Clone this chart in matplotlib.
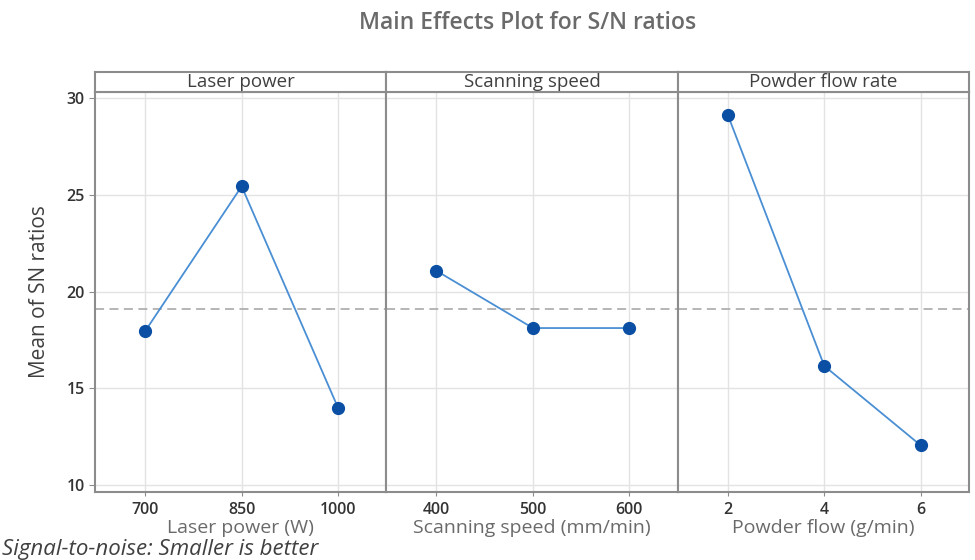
import matplotlib
matplotlib.use("Agg")
import matplotlib.pyplot as plt
import numpy as np

plt.rcParams['font.family'] = ['Open Sans', 'DejaVu Sans']

# factor names, levels and mean S/N ratio at each level
factors = ["Laser power", "Scanning speed", "Powder flow rate"]
axis_labels = ["Laser power (W)", "Scanning speed (mm/min)", "Powder flow (g/min)"]
levels = [["700", "850", "1000"], ["400", "500", "600"], ["2", "4", "6"]]
laser_sn = [17.96, 25.45, 13.99]
speed_sn = [21.08, 18.12, 18.12]
powder_sn = [29.14, 16.16, 12.05]
sn_means = [laser_sn, speed_sn, powder_sn]
y_ticks = [10, 15, 20, 25, 30]

grand_mean = np.mean(np.concatenate(sn_means))

frame_col = "#8c8c8c"
line_col = "#4a8fd4"
marker_col = "#0a4fa3"
text_col = "#404040"

fig = plt.figure(figsize=(9.75, 5.6), dpi=100)

left, right = 95 / 975, 969 / 975
bottom, top = 1 - 492 / 560, 1 - 92 / 560
strip_h = 20.5 / 560
panel_w = (right - left) / 3

for i, name in enumerate(factors):
    ax = fig.add_axes([left + i * panel_w, bottom, panel_w, top - bottom])
    x = np.arange(len(levels[i]))
    ax.plot(x, sn_means[i], color=line_col, lw=1.3, zorder=3)
    ax.plot(x, sn_means[i], "o", color=marker_col, ms=8.5, zorder=4)
    ax.axhline(grand_mean, color="#b0b0b0", ls=(0, (5, 3)), lw=1.3, zorder=2)

    ax.set_xlim(-0.52, 2.5)
    ax.set_ylim(9.64, 30.33)
    ax.set_xticks(x)
    ax.set_xticklabels(levels[i], fontweight="semibold")
    ax.set_yticks(y_ticks)
    ax.grid(True, color="#e3e3e3", lw=1.0, zorder=0)
    ax.set_axisbelow(True)
    for sp in ax.spines.values():
        sp.set_color(frame_col)
        sp.set_linewidth(1.5)
    ax.tick_params(axis="x", length=3, color=frame_col, labelsize=11.5,
                   labelcolor="#333333", pad=4)
    if i == 0:
        ax.set_yticklabels([str(t) for t in y_ticks], fontweight="semibold")
        ax.tick_params(axis="y", length=4, color=frame_col, labelsize=11.5,
                       labelcolor="#333333")
        ax.set_ylabel("Mean of SN ratios", fontsize=15, color=text_col, labelpad=12)
    else:
        ax.tick_params(axis="y", length=0, labelleft=False)
    ax.set_xlabel(axis_labels[i], fontsize=14, color="#6a6a6a", labelpad=1)

    # strip with the factor name above each panel
    sax = fig.add_axes([left + i * panel_w, top, panel_w, strip_h])
    sax.set_xticks([])
    sax.set_yticks([])
    for sp in sax.spines.values():
        sp.set_color(frame_col)
        sp.set_linewidth(1.5)
    sax.text(0.5, 0.5, name, ha="center", va="center", fontsize=13.5,
             color=text_col, transform=sax.transAxes)

fig.text(0.541, 1 - 23 / 560, "Main Effects Plot for S/N ratios", ha="center",
         va="center", fontsize=16.5, fontweight="semibold", color="#6a6a6a")
fig.text(0.002, 1 - 549 / 560, "Signal-to-noise: Smaller is better", ha="left",
         va="center", fontsize=16, style="italic", color=text_col)

fig.savefig("out.png", dpi=100)
